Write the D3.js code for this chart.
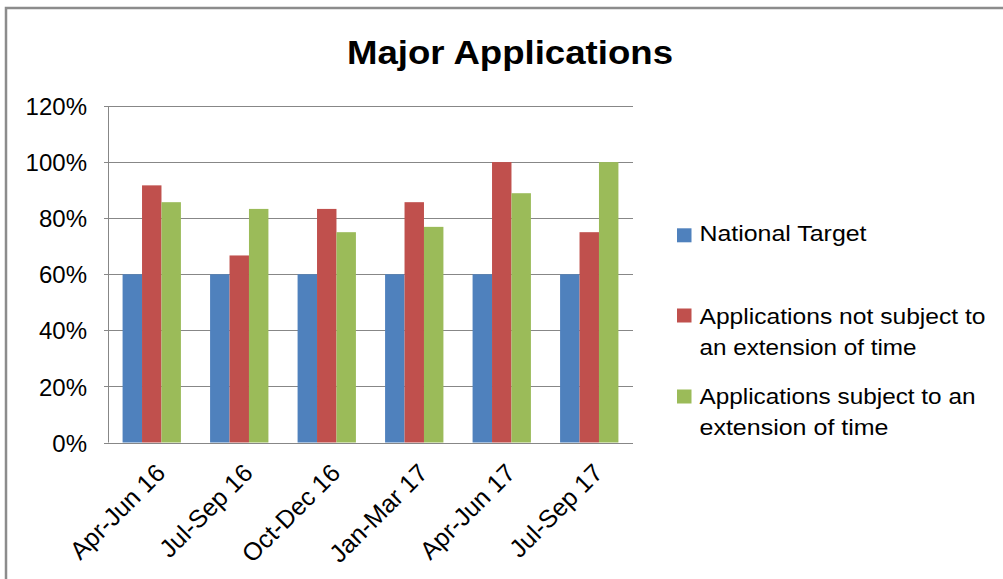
<!DOCTYPE html>
<html>
<head>
<meta charset="utf-8">
<script src="https://cdn.jsdelivr.net/npm/d3@7"></script>
<style>
  html, body { margin: 0; padding: 0; background: #fff; }
  svg { display: block; }
  text { font-family: "Liberation Sans", Arial, sans-serif; fill: #000; }
</style>
</head>
<body>
<svg id="chart" width="1003" height="579"></svg>
<script>
// Quarterly reporting periods
const quarters = ["Apr-Jun 16", "Jul-Sep 16", "Oct-Dec 16", "Jan-Mar 17", "Apr-Jun 17", "Jul-Sep 17"];

// Series values (percent)
const nationalTarget = [60, 60, 60, 60, 60, 60];
const notExtended    = [91.7, 66.7, 83.3, 85.7, 100, 75];
const extended       = [85.7, 83.3, 75, 76.9, 88.9, 100];

const seriesNames = [
  ["National Target"],
  ["Applications not subject to", "an extension of time"],
  ["Applications subject to an", "extension of time"]
];
const seriesColors = ["#4F81BD", "#C0504D", "#9BBB59"];

// Y axis ticks
const yTicks = [0, 20, 40, 60, 80, 100, 120];

const series = [nationalTarget, notExtended, extended];

const svg = d3.select("#chart");

// Outer chart frame
svg.append("rect")
  .attr("x", 6).attr("y", 8)
  .attr("width", 1010).attr("height", 590)
  .attr("fill", "#fff")
  .attr("stroke", "#8c8c8c")
  .attr("stroke-width", 2.5);

// Title
svg.append("text")
  .attr("x", 510).attr("y", 63.5)
  .attr("text-anchor", "middle")
  .attr("font-size", 32.5)
  .attr("font-weight", "bold")
  .attr("textLength", 326)
  .attr("lengthAdjust", "spacingAndGlyphs")
  .text("Major Applications");

const plot = { left: 108, right: 633, top: 106, bottom: 442.5 };

const x = d3.scaleBand()
  .domain(quarters)
  .range([plot.left, plot.right])
  .paddingInner(0).paddingOuter(0);

const barW = x.bandwidth() / 4.5;
const xSub = d3.scaleBand()
  .domain(d3.range(series.length))
  .range([barW * 0.75, barW * 3.75]);

const y = d3.scaleLinear().domain([0, 120]).range([plot.bottom, plot.top]);

// Gridlines
svg.append("g")
  .selectAll("line")
  .data(yTicks)
  .join("line")
  .attr("x1", plot.left - 4).attr("x2", plot.right)
  .attr("y1", d => Math.round(y(d)) + 0.5).attr("y2", d => Math.round(y(d)) + 0.5)
  .attr("stroke", "#878787")
  .attr("stroke-width", 1);

// Y axis labels
const yAxis = d3.axisLeft(y).tickValues(yTicks).tickFormat(d => d + "%").tickSize(0).tickPadding(21);
const gy = svg.append("g")
  .attr("transform", `translate(${plot.left},0)`)
  .call(yAxis);
gy.select(".domain").remove();
gy.selectAll("text")
  .attr("font-size", 24)
  .attr("font-family", "Liberation Sans, Arial, sans-serif")
  .attr("fill", "#000")
  .attr("dy", "0.36em");

// Bars
const groups = svg.append("g")
  .selectAll("g")
  .data(quarters)
  .join("g")
  .attr("transform", d => `translate(${x(d)},0)`);

groups.selectAll("rect")
  .data((q, i) => series.map((s, k) => ({ k, v: s[i] })))
  .join("rect")
  .attr("x", d => xSub(d.k))
  .attr("width", xSub.bandwidth())
  .attr("y", d => y(d.v))
  .attr("height", d => y(0) - y(d.v))
  .attr("fill", d => seriesColors[d.k]);

// Axis lines
svg.append("line")
  .attr("x1", plot.left + 0.5).attr("x2", plot.left + 0.5)
  .attr("y1", plot.top).attr("y2", plot.bottom)
  .attr("stroke", "#878787");
svg.append("line")
  .attr("x1", plot.left).attr("x2", plot.right)
  .attr("y1", Math.round(plot.bottom) + 0.5).attr("y2", Math.round(plot.bottom) + 0.5)
  .attr("stroke", "#878787");

// X axis labels, rotated
const xAxis = d3.axisBottom(x).tickSize(0).tickPadding(0);
const gx = svg.append("g")
  .attr("transform", `translate(0,${plot.bottom})`)
  .call(xAxis);
gx.select(".domain").remove();
gx.selectAll("text")
  .attr("font-size", 25)
  .attr("font-family", "Liberation Sans, Arial, sans-serif")
  .attr("fill", "#000")
  .attr("text-anchor", "end")
  .attr("dy", null)
  .attr("y", 0)
  .attr("transform", "translate(15,32) rotate(-45)");

// Legend
const legendRows = [
  { sq: 228.3, base: [241] },
  { sq: 308.5, base: [323.5, 354.5] },
  { sq: 389.5, base: [403.5, 435] }
];
const legendWidths = [[167], [286, 217], [276, 189]];

const legend = svg.append("g");
seriesNames.forEach((lines, k) => {
  legend.append("rect")
    .attr("x", 677).attr("y", legendRows[k].sq)
    .attr("width", 14.5).attr("height", 14)
    .attr("fill", seriesColors[k]);
  lines.forEach((t, j) => {
    legend.append("text")
      .attr("x", 699.5).attr("y", legendRows[k].base[j])
      .attr("font-size", 21.5)
      .attr("textLength", legendWidths[k][j])
      .attr("lengthAdjust", "spacingAndGlyphs")
      .attr("fill", "#111")
      .text(t);
  });
});
</script>
</body>
</html>
